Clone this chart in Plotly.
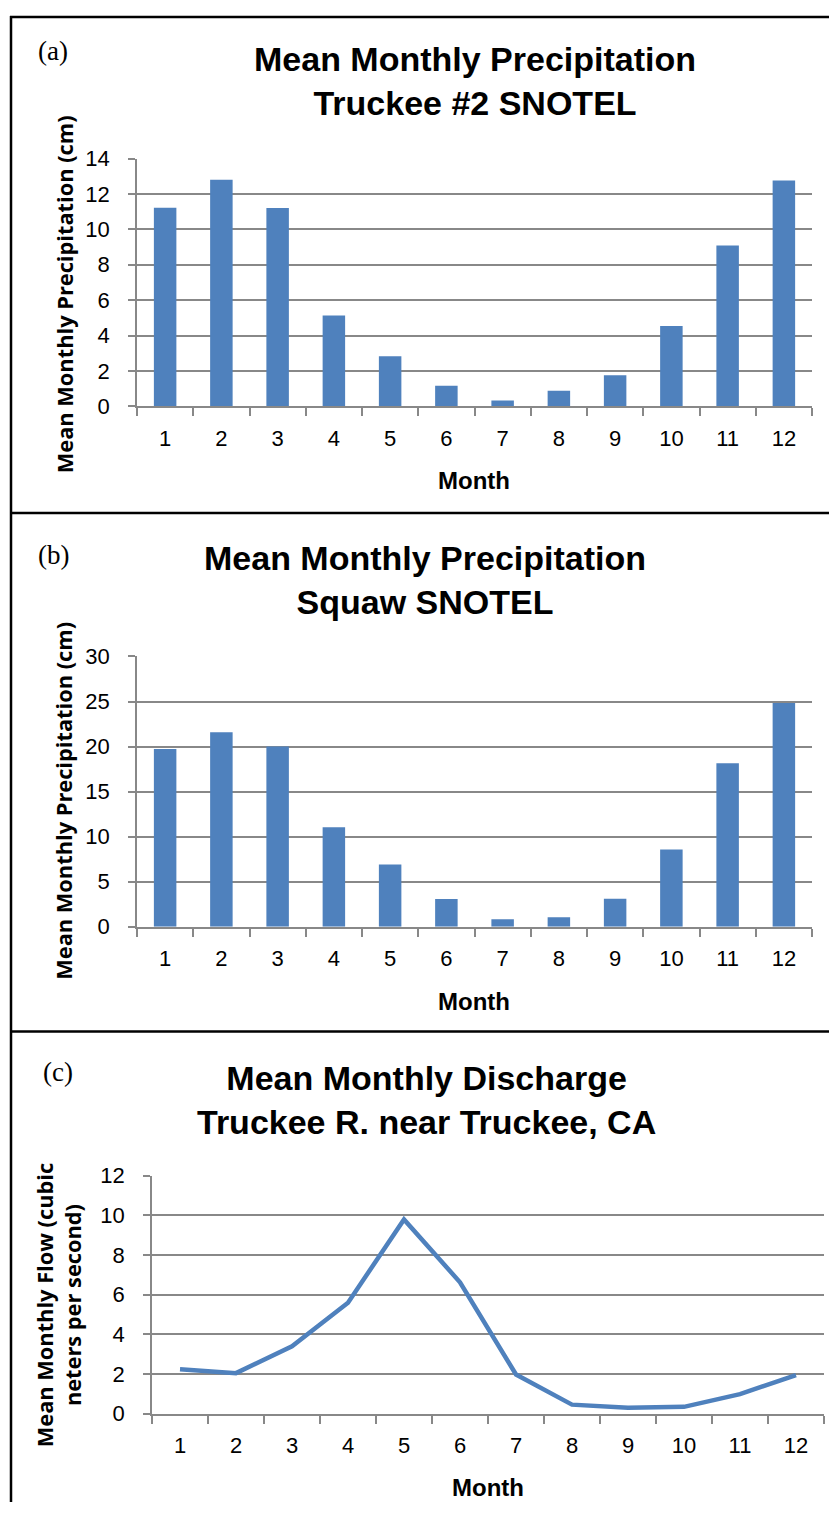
import plotly.graph_objects as go

W, H = 829, 1515

months = [str(m) for m in range(1, 13)]
truckee_precip = [11.22, 12.8, 11.2, 5.13, 2.83, 1.17, 0.33, 0.89, 1.76, 4.54, 9.09, 12.76]
squaw_precip = [19.74, 21.58, 20.0, 11.05, 6.92, 3.08, 0.83, 1.05, 3.12, 8.57, 18.16, 24.85]
discharge = [2.25, 2.05, 3.4, 5.6, 9.8, 6.63, 1.98, 0.46, 0.31, 0.35, 0.99, 1.95]

titles = ["Mean Monthly Precipitation<br>Truckee #2 SNOTEL",
          "Mean Monthly Precipitation<br>Squaw SNOTEL",
          "Mean Monthly Discharge<br>Truckee R. near Truckee, CA"]
ytitles = ["Mean Monthly Precipitation (cm)",
           "Mean Monthly Precipitation (cm)",
           "Mean Monthly Flow (cubic<br>neters per second)"]
panel_labels = ["(a)", "(b)", "(c)"]
xtitle = "Month"

BLUE = "#4F81BD"
GRID = "#888888"
NARROW = "Liberation Sans Narrow, Liberation Sans, Arial"
TICKFONT = dict(family="Liberation Sans, Arial", size=22, color="black")
TITLEFONT = dict(family=NARROW, size=34, color="black", weight="bold")
YTFONT = dict(family="Open Sans, Lato, sans-serif", size=21.8, color="black", weight="bold")


def px(x):
    return x / W


def py(y):
    return 1 - y / H


fig = go.Figure()
fig.add_trace(go.Bar(x=months, y=truckee_precip, marker=dict(color=BLUE, line=dict(width=0)),
                     xaxis="x", yaxis="y", showlegend=False))
fig.add_trace(go.Bar(x=months, y=squaw_precip, marker=dict(color=BLUE, line=dict(width=0)),
                     xaxis="x2", yaxis="y2", showlegend=False))
fig.add_trace(go.Scatter(x=months, y=discharge, mode="lines", line=dict(color=BLUE, width=4.5),
                         xaxis="x3", yaxis="y3", showlegend=False))

# plot-area geometry in pixels (left, right, top, bottom)
areas = [(137, 812, 149, 401), (137, 812, 655.3, 930.1), (152, 824, 1183.3, 1425.3)]
yranges = [(0, 14, 2), (0, 30, 5), (0, 12, 2)]

layout = dict(width=W, height=H, margin=dict(l=0, r=0, t=0, b=0),
              plot_bgcolor="white", paper_bgcolor="white", bargap=0.6)
for i, ((l, r, t, b), (y0, y1, dt)) in enumerate(zip(areas, yranges)):
    sfx = "" if i == 0 else str(i + 1)
    layout["xaxis" + sfx] = dict(
        domain=[px(l), px(r)], anchor="y" + sfx, type="category",
        range=[-0.5, 11.5], tickson="boundaries", ticks="outside", ticklen=8,
        tickcolor=GRID, tickwidth=1.5, showline=True, linecolor=GRID, linewidth=1.5,
        showgrid=False, tickfont=TICKFONT, ticklabelstandoff=11)
    layout["yaxis" + sfx] = dict(
        domain=[py(b), py(t)], anchor="x" + sfx, range=[y0, y1], dtick=dt,
        ticks="outside", ticklen=7, tickcolor=GRID, tickwidth=1.5,
        showline=True, linecolor=GRID, linewidth=1.5, showgrid=True,
        gridcolor=GRID, gridwidth=1.5, zeroline=False, tickfont=TICKFONT,
        ticklabelstandoff=14)
fig.update_layout(**layout)

ann = []
title_pos = [(474.6, 70), (425, 578), (426.5, 1106)]
for (x, y), t in zip(title_pos, titles):
    ann.append(dict(x=px(x), y=py(y), xref="paper", yref="paper", text=t, showarrow=False,
                    font=TITLEFONT, xanchor="center", yanchor="middle"))
lab_pos = [(53, 40), (53, 552), (58, 1078)]
for (x, y), t in zip(lab_pos, panel_labels):
    ann.append(dict(x=px(x), y=py(y), xref="paper", yref="paper", text=t, showarrow=False,
                    font=dict(family="Liberation Serif, Times New Roman, serif", size=27, color="black"),
                    xanchor="center", yanchor="middle"))
yt_pos = [(64, 287), (64, 802), (58, 1315)]
for (x, y), t in zip(yt_pos, ytitles):
    ann.append(dict(x=px(x), y=py(y), xref="paper", yref="paper", text=t, showarrow=False,
                    textangle=-90, font=YTFONT, xanchor="center", yanchor="middle"))
mt_pos = [(474, 476), (474, 1006), (488, 1500)]
for (x, y) in mt_pos:
    ann.append(dict(x=px(x), y=py(y), xref="paper", yref="paper", text=xtitle, showarrow=False,
                    font=dict(family=NARROW, size=24, color="black", weight="bold"),
                    xanchor="center", yanchor="middle"))
fig.update_layout(annotations=ann)

# panel frames
shapes = []
for yline in (5, 509.5, 1036.5):
    shapes.append(dict(type="line", xref="paper", yref="paper", x0=px(10), x1=1,
                       y0=py(yline), y1=py(yline), line=dict(color="black", width=2.5)))
shapes.append(dict(type="line", xref="paper", yref="paper", x0=px(11), x1=px(11),
                   y0=py(4), y1=0, line=dict(color="black", width=2.5)))
fig.update_layout(shapes=shapes)

fig.write_html(
    "out.html",
    config={"displayModeBar": False},
    post_script="document.body.style.margin='0';document.body.style.overflow='hidden';",
)
